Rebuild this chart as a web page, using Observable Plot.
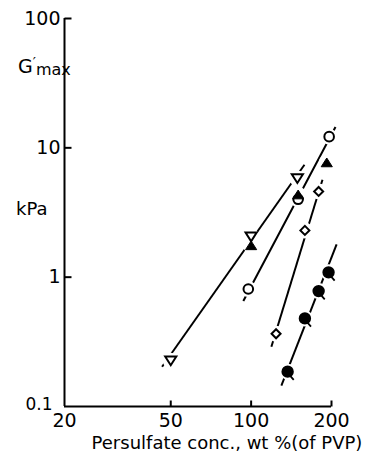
<!DOCTYPE html>
<html><head><meta charset="utf-8">
<script src="https://cdn.jsdelivr.net/npm/d3@7"></script>
<script src="https://cdn.jsdelivr.net/npm/@observablehq/plot@0.6"></script>
<style>body{margin:0;background:#fff;}#chart svg{display:block;}</style>
</head><body><div id="chart"></div>
<script>
// Data (x: persulfate conc. wt%, y: G'max kPa)
const triDownX = [50, 100, 149];
const triDownY = [0.226, 2.05, 5.8];
const triUpX = [100, 150, 192];
const triUpY = [1.76, 4.35, 7.7];
const circX = [97.6, 150, 196];
const circY = [0.81, 4.0, 12.2];
const diamX = [124, 159, 179];
const diamY = [0.365, 2.3, 4.6];
const pinX = [137, 159, 179, 195];
const pinY = [0.186, 0.48, 0.78, 1.09];
// fitted lines (endpoints)
const lineNames = ["tri", "circ", "diam", "pin"];
const lineX1 = [46.4, 93.5, 119.1, 129.8];
const lineY1 = [0.203, 0.654, 0.29, 0.145];
const lineX2 = [158.4, 207, 185, 209];
const lineY2 = [7.4, 14.5, 5.67, 1.79];
const xTicks = [20, 50, 100, 200];
const yTicks = [0.1, 1, 10, 100];
const xLabel = "Persulfate conc., wt %(of PVP)";

const rad = s => Math.sqrt(s / Math.PI);
const symTriDown = {draw(c, s){const r = rad(s); c.moveTo(-r*1.05, -r*0.8); c.lineTo(r*1.05, -r*0.8); c.lineTo(0, r*0.85); c.closePath();}};
const symTriUp = {draw(c, s){const r = rad(s); c.moveTo(-r*1.05, r*0.8); c.lineTo(r*1.05, r*0.8); c.lineTo(0, -r*0.85); c.closePath();}};
const symDiamond = {draw(c, s){const r = rad(s); c.moveTo(0, -r); c.lineTo(r, 0); c.lineTo(0, r); c.lineTo(-r, 0); c.closePath();}};
const symPin = {draw(c, s){const r = rad(s); c.moveTo(r, 0); c.arc(0, 0, r, 0, 2*Math.PI); c.moveTo(r*0.45, r*0.75); c.lineTo(r*1.15, r*1.55);}};
const symTickUp = {draw(c){c.moveTo(0, 0); c.lineTo(0, -6);}};
const symTickRight = {draw(c){c.moveTo(0, 0); c.lineTo(7, 0);}};

const pts = (xs, ys) => xs.map((x, i) => ({x, y: ys[i]}));
const triDown = pts(triDownX, triDownY);
const triUp = pts(triUpX, triUpY);
const circ = pts(circX, circY);
const diam = pts(diamX, diamY);
const pin = pts(pinX, pinY);
const all = [...triDown, ...triUp, ...circ, ...diam, ...pin];
const lines = lineNames.map((n, i) => ({n, x1: lineX1[i], y1: lineY1[i], x2: lineX2[i], y2: lineY2[i]}));

const font = "DejaVu Sans, sans-serif";
const chart = Plot.plot({
  width: 367, height: 454,
  marginLeft: 64, marginRight: 36, marginTop: 18, marginBottom: 48,
  style: {fontFamily: font, background: "white", color: "black"},
  x: {type: "log", domain: [20, 200]},
  y: {type: "log", domain: [0.1, 100]},
  marks: [
    Plot.ruleX([20], {strokeWidth: 2}),
    Plot.ruleY([0.1], {strokeWidth: 2}),
    Plot.dot(xTicks.slice(1), {x: d => d, y: 0.1, symbol: symTickUp, stroke: "black", strokeWidth: 2, fill: "none"}),
    Plot.dot(yTicks.slice(1), {x: 20, y: d => d, symbol: symTickRight, stroke: "black", strokeWidth: 2, fill: "none"}),
    Plot.axisX({ticks: xTicks, tickSize: 0, tickPadding: 7, fontSize: 19, label: null, tickFormat: d => String(d)}),
    Plot.axisY({ticks: yTicks.slice(1), tickSize: 0, tickPadding: 4, fontSize: 19, label: null, tickFormat: d => String(d)}),
    Plot.text([0.1], {x: 20, y: d => d, text: d => String(d), dx: -12, dy: -2, textAnchor: "end", fontSize: 17}),
    Plot.link(lines, {x1: "x1", y1: "y1", x2: "x2", y2: "y2", stroke: "black", strokeWidth: 2}),
    Plot.dot(all, {x: "x", y: "y", r: 8, fill: "white", stroke: "none"}),
    Plot.dot(circ, {x: "x", y: "y", r: 4.8, fill: "white", stroke: "black", strokeWidth: 2}),
    Plot.dot(diam, {x: "x", y: "y", r: 4.5, symbol: symDiamond, fill: "white", stroke: "black", strokeWidth: 2}),
    Plot.dot(triDown, {x: "x", y: "y", r: 5.3, symbol: symTriDown, fill: "white", stroke: "black", strokeWidth: 2}),
    Plot.dot(triUp, {x: "x", y: "y", r: 5.3, symbol: symTriUp, fill: "black", stroke: "black", strokeWidth: 1}),
    Plot.dot(pin, {x: "x", y: "y", r: 5.3, symbol: symPin, fill: "black", stroke: "black", strokeWidth: 1.8})
  ]
});
const svg = d3.select(chart);
const g = svg.append("text").attr("x", 18).attr("y", 73).attr("text-anchor", "start").attr("font-family", font).attr("font-size", 19);
g.append("tspan").text("G");
g.append("tspan").text("′").attr("font-size", 14).attr("dy", -6).attr("dx", 0);
g.append("tspan").text("max").attr("font-size", 16).attr("dy", 8).attr("dx", 0);
svg.append("text").attr("x", 16).attr("y", 215).attr("text-anchor", "start").attr("font-family", font).attr("font-size", 18).text("kPa");
svg.append("text").attr("x", 227).attr("y", 449).attr("text-anchor", "middle").attr("font-family", font).attr("font-size", 18).text(xLabel);
document.getElementById("chart").append(chart);
</script>
</body></html>
